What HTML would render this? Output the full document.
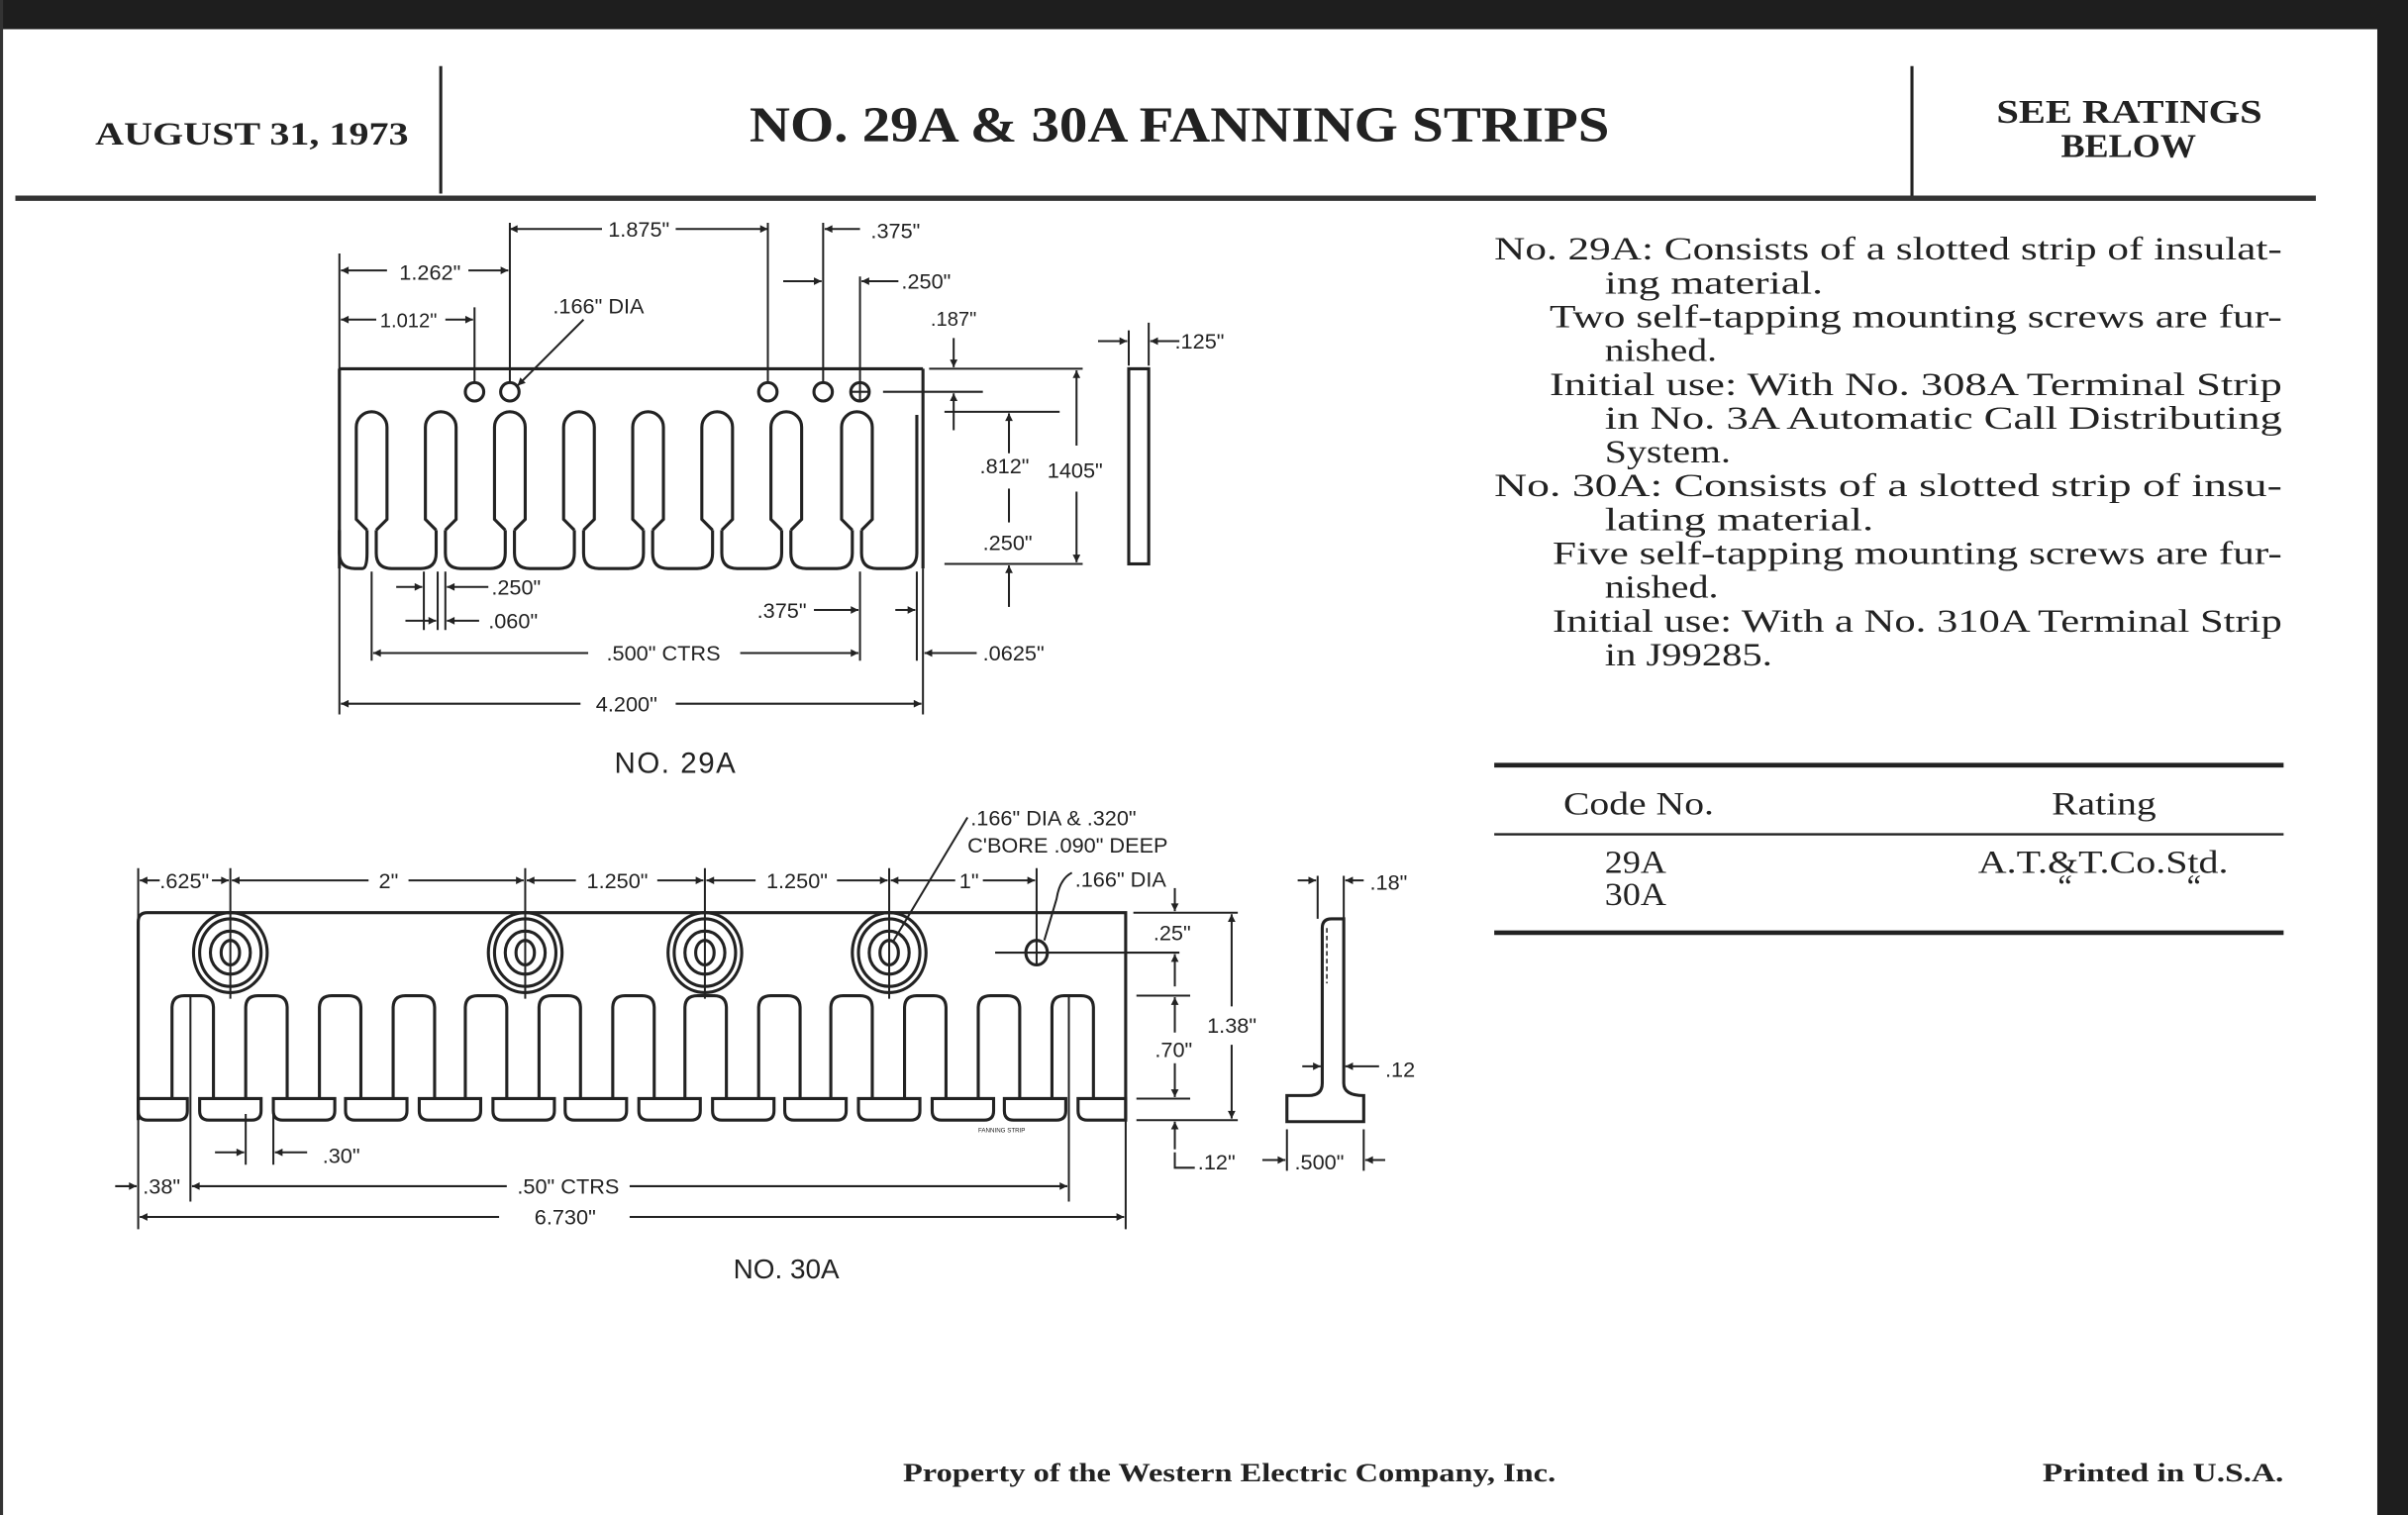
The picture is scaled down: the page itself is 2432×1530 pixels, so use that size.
<!DOCTYPE html>
<html><head><meta charset="utf-8"><style>
html,body{margin:0;padding:0;background:#fff;}
svg{display:block}
.s{font-family:"Liberation Serif",serif;font-weight:bold;fill:#222}
.t{font-family:"Liberation Serif",serif;fill:#222;font-size:21px}
.d{font-family:"Liberation Sans",sans-serif;fill:#222;font-size:14px}
</style></head><body>
<svg width="2432" height="1530" viewBox="0 0 1568 986" preserveAspectRatio="none" xmlns="http://www.w3.org/2000/svg">
<defs>
<marker id="a" viewBox="0 0 10 10" refX="10" refY="5" markerWidth="7" markerHeight="5" orient="auto-start-reverse" markerUnits="userSpaceOnUse"><path d="M0,0L10,5L0,10z" fill="#222"/></marker>
<g id="cb" stroke="#222" stroke-width="2" fill="none"><ellipse cx="0" cy="0" rx="24" ry="26"/><ellipse cx="0" cy="0" rx="20" ry="22"/><ellipse cx="0" cy="0" rx="13" ry="14"/><ellipse cx="0" cy="0" rx="6" ry="8"/></g>
</defs>
<rect width="1568" height="986" fill="#fff"/>
<rect x="0" y="0" width="1568" height="19" fill="#1e1e1e"/>
<rect x="1548" y="0" width="20" height="986" fill="#1e1e1e"/>
<rect x="0" y="0" width="2" height="986" fill="#333"/>

<!-- header -->
<line x1="287" y1="43" x2="287" y2="126" stroke="#222" stroke-width="2"/>
<line x1="1245" y1="43" x2="1245" y2="128" stroke="#222" stroke-width="2"/>
<line x1="10" y1="129" x2="1508" y2="129" stroke="#333" stroke-width="3.5"/>
<g lengthAdjust="spacingAndGlyphs">
<text class="s" x="62" y="94" font-size="21" textLength="204" lengthAdjust="spacingAndGlyphs">AUGUST 31, 1973</text>
<text class="s" x="488" y="92" font-size="33" textLength="560" lengthAdjust="spacingAndGlyphs">NO. 29A &amp; 30A FANNING STRIPS</text>
<text class="s" x="1300" y="80" font-size="22" textLength="173" lengthAdjust="spacingAndGlyphs">SEE RATINGS</text>
<text class="s" x="1342" y="102" font-size="22" textLength="88" lengthAdjust="spacingAndGlyphs">BELOW</text>
</g>

<!-- description -->
<g class="t" font-size="22">
<text x="973" y="169" textLength="513" lengthAdjust="spacingAndGlyphs">No. 29A: Consists of a slotted strip of insulat-</text>
<text x="1045" y="191" textLength="142" lengthAdjust="spacingAndGlyphs">ing material.</text>
<text x="1009" y="213" textLength="477" lengthAdjust="spacingAndGlyphs">Two self-tapping mounting screws are fur-</text>
<text x="1045" y="235" textLength="73" lengthAdjust="spacingAndGlyphs">nished.</text>
<text x="1009" y="257" textLength="477" lengthAdjust="spacingAndGlyphs">Initial use: With No. 308A Terminal Strip</text>
<text x="1045" y="279" textLength="441" lengthAdjust="spacingAndGlyphs">in No. 3A Automatic Call Distributing</text>
<text x="1045" y="301" textLength="82" lengthAdjust="spacingAndGlyphs">System.</text>
<text x="973" y="323" textLength="513" lengthAdjust="spacingAndGlyphs">No. 30A: Consists of a slotted strip of insu-</text>
<text x="1045" y="345" textLength="175" lengthAdjust="spacingAndGlyphs">lating material.</text>
<text x="1011" y="367" textLength="475" lengthAdjust="spacingAndGlyphs">Five self-tapping mounting screws are fur-</text>
<text x="1045" y="389" textLength="74" lengthAdjust="spacingAndGlyphs">nished.</text>
<text x="1011" y="411" textLength="475" lengthAdjust="spacingAndGlyphs">Initial use: With a No. 310A Terminal Strip</text>
<text x="1045" y="433" textLength="109" lengthAdjust="spacingAndGlyphs">in J99285.</text>
</g>
<line x1="973" y1="498" x2="1487" y2="498" stroke="#222" stroke-width="3"/>
<text class="t" x="1018" y="530" textLength="98" lengthAdjust="spacingAndGlyphs">Code No.</text>
<text class="t" x="1336" y="530" textLength="68" lengthAdjust="spacingAndGlyphs">Rating</text>
<line x1="973" y1="543" x2="1487" y2="543" stroke="#222" stroke-width="1.5"/>
<text class="t" x="1045" y="568" textLength="40" lengthAdjust="spacingAndGlyphs">29A</text>
<text class="t" x="1045" y="589" textLength="40" lengthAdjust="spacingAndGlyphs">30A</text>
<text class="t" x="1288" y="568" textLength="163" lengthAdjust="spacingAndGlyphs">A.T.&amp;T.Co.Std.</text>
<text class="t" x="1340" y="584">“</text>
<text class="t" x="1424" y="584">“</text>
<line x1="973" y1="607" x2="1487" y2="607" stroke="#222" stroke-width="3"/>

<text class="s" x="588" y="964" font-size="17" textLength="425" lengthAdjust="spacingAndGlyphs">Property of the Western Electric Company, Inc.</text>
<text class="s" x="1330" y="964" font-size="17" textLength="157" lengthAdjust="spacingAndGlyphs">Printed in U.S.A.</text>

<!-- 29A drawing -->
<g stroke="#222" stroke-width="2" fill="none">
<line x1="221" y1="240" x2="601" y2="240"/>
<line x1="221" y1="240" x2="221" y2="370"/>
<line x1="601" y1="240" x2="601" y2="370"/>
<path d="M221,345 V360 Q221,370 231,370 H236 Q239,370 239,360 V345"/>
<path d="M239,345 L232,338 V278 A10,10 0 0 1 252,278 V338 L245,345"/>
<path d="M245,345 V360 Q245,370 255,370 H274 Q284,370 284,360 V345"/>
<path d="M284,345 L277,338 V278 A10,10 0 0 1 297,278 V338 L290,345"/>
<path d="M290,345 V360 Q290,370 300,370 H319 Q329,370 329,360 V345"/>
<path d="M329,345 L322,338 V278 A10,10 0 0 1 342,278 V338 L335,345"/>
<path d="M335,345 V360 Q335,370 345,370 H364 Q374,370 374,360 V345"/>
<path d="M374,345 L367,338 V278 A10,10 0 0 1 387,278 V338 L380,345"/>
<path d="M380,345 V360 Q380,370 390,370 H409 Q419,370 419,360 V345"/>
<path d="M419,345 L412,338 V278 A10,10 0 0 1 432,278 V338 L425,345"/>
<path d="M425,345 V360 Q425,370 435,370 H454 Q464,370 464,360 V345"/>
<path d="M464,345 L457,338 V278 A10,10 0 0 1 477,278 V338 L470,345"/>
<path d="M470,345 V360 Q470,370 480,370 H499 Q509,370 509,360 V345"/>
<path d="M509,345 L502,338 V278 A10,10 0 0 1 522,278 V338 L515,345"/>
<path d="M515,345 V360 Q515,370 525,370 H545 Q555,370 555,360 V345"/>
<path d="M555,345 L548,338 V278 A10,10 0 0 1 568,278 V338 L561,345"/>
<path d="M561,345 V360 Q561,370 571,370 H587 Q597,370 597,360 V270"/>
<circle cx="309" cy="255" r="6"/><circle cx="332" cy="255" r="6"/><circle cx="500" cy="255" r="6"/><circle cx="536" cy="255" r="6"/><circle cx="560" cy="255" r="6"/>
<rect x="735" y="240" width="13" height="127"/>
</g>
<g stroke="#222" stroke-width="1.3" fill="none">
<path d="M221,165V465 M309,200V249 M332,145V249 M500,145V249 M536,145V249 M560,180V249 M601,370V465 M554,255H566 M560,249V261"/>
<path d="M605,240H705 M575,255H640 M615,268H690 M615,367H705 M735,215V238 M748,210V238"/>
<path d="M276,372V410 M285,372V410 M290,372V410 M560,372V430 M242,372V430 M597,372V430"/>
<line x1="332" y1="149" x2="392" y2="149" marker-start="url(#a)"/><line x1="440" y1="149" x2="500" y2="149" marker-end="url(#a)"/>
<line x1="560" y1="149" x2="537" y2="149" marker-end="url(#a)"/>
<line x1="222" y1="176" x2="252" y2="176" marker-start="url(#a)"/><line x1="305" y1="176" x2="331" y2="176" marker-end="url(#a)"/>
<line x1="222" y1="208" x2="245" y2="208" marker-start="url(#a)"/><line x1="290" y1="208" x2="308" y2="208" marker-end="url(#a)"/>
<line x1="380" y1="208" x2="337" y2="251" marker-end="url(#a)"/>
<line x1="510" y1="183" x2="535" y2="183" marker-end="url(#a)"/><line x1="585" y1="183" x2="561" y2="183" marker-end="url(#a)"/>
<line x1="621" y1="220" x2="621" y2="239" marker-end="url(#a)"/><line x1="621" y1="280" x2="621" y2="256" marker-end="url(#a)"/>
<line x1="657" y1="295" x2="657" y2="269" marker-end="url(#a)"/><line x1="657" y1="318" x2="657" y2="340"/>
<line x1="701" y1="290" x2="701" y2="241" marker-end="url(#a)"/><line x1="701" y1="320" x2="701" y2="366" marker-end="url(#a)"/>
<line x1="657" y1="395" x2="657" y2="368" marker-end="url(#a)"/>
<line x1="715" y1="222" x2="734" y2="222" marker-end="url(#a)"/><line x1="768" y1="222" x2="749" y2="222" marker-end="url(#a)"/>
<line x1="258" y1="382" x2="275" y2="382" marker-end="url(#a)"/><line x1="318" y1="382" x2="291" y2="382" marker-end="url(#a)"/>
<line x1="264" y1="404" x2="284" y2="404" marker-end="url(#a)"/><line x1="312" y1="404" x2="291" y2="404" marker-end="url(#a)"/>
<line x1="530" y1="397" x2="559" y2="397" marker-end="url(#a)"/>
<line x1="583" y1="397" x2="596" y2="397" marker-end="url(#a)"/>
<line x1="243" y1="425" x2="383" y2="425" marker-start="url(#a)"/><line x1="482" y1="425" x2="559" y2="425" marker-end="url(#a)"/>
<line x1="636" y1="425" x2="602" y2="425" marker-end="url(#a)"/>
<line x1="222" y1="458" x2="378" y2="458" marker-start="url(#a)"/><line x1="440" y1="458" x2="600" y2="458" marker-end="url(#a)"/>
</g>
<g class="d">
<text x="416" y="154" text-anchor="middle">1.875"</text>
<text x="567" y="155">.375"</text>
<text x="280" y="182" text-anchor="middle">1.262"</text>
<text x="266" y="213" text-anchor="middle" font-size="13">1.012"</text>
<text x="360" y="204">.166" DIA</text>
<text x="587" y="188">.250"</text>
<text x="606" y="212" font-size="13">.187"</text>
<text x="765" y="227">.125"</text>
<text x="638" y="308">.812"</text>
<text x="682" y="311">1405"</text>
<text x="640" y="358">.250"</text>
<text x="320" y="387">.250"</text>
<text x="318" y="409">.060"</text>
<text x="493" y="402">.375"</text>
<text x="432" y="430" text-anchor="middle">.500" CTRS</text>
<text x="640" y="430">.0625"</text>
<text x="408" y="463" text-anchor="middle">4.200"</text>
<text x="440" y="503" text-anchor="middle" font-size="19" letter-spacing="1">NO. 29A</text>
</g>

<!-- 30A drawing -->
<g stroke="#222" stroke-width="2" fill="none">
<path d="M90,729 V600 Q90,594 96,594 H733 V729"/>
<use href="#cb" x="150" y="620"/><use href="#cb" x="342" y="620"/><use href="#cb" x="459" y="620"/><use href="#cb" x="579" y="620"/>
<ellipse cx="675" cy="620" rx="7" ry="8"/>
<path d="M112,715V656Q112,648 120,648H131Q139,648 139,656V715"/>
<path d="M160,715V656Q160,648 168,648H179Q187,648 187,656V715"/>
<path d="M208,715V656Q208,648 216,648H227Q235,648 235,656V715"/>
<path d="M256,715V656Q256,648 264,648H275Q283,648 283,656V715"/>
<path d="M303,715V656Q303,648 311,648H322Q330,648 330,656V715"/>
<path d="M351,715V656Q351,648 359,648H370Q378,648 378,656V715"/>
<path d="M399,715V656Q399,648 407,648H418Q426,648 426,656V715"/>
<path d="M446,715V656Q446,648 454,648H465Q473,648 473,656V715"/>
<path d="M494,715V656Q494,648 502,648H513Q521,648 521,656V715"/>
<path d="M541,715V656Q541,648 549,648H560Q568,648 568,656V715"/>
<path d="M589,715V656Q589,648 597,648H608Q616,648 616,656V715"/>
<path d="M637,715V656Q637,648 645,648H656Q664,648 664,656V715"/>
<path d="M685,715V656Q685,648 693,648H704Q712,648 712,656V715"/>
<path d="M90,715H122V723Q122,729 116,729H96Q90,729 90,723Z"/>
<path d="M130,715H170V723Q170,729 164,729H136Q130,729 130,723Z"/>
<path d="M178,715H218V723Q218,729 212,729H184Q178,729 178,723Z"/>
<path d="M225,715H265V723Q265,729 259,729H231Q225,729 225,723Z"/>
<path d="M273,715H313V723Q313,729 307,729H279Q273,729 273,723Z"/>
<path d="M321,715H361V723Q361,729 355,729H327Q321,729 321,723Z"/>
<path d="M368,715H408V723Q408,729 402,729H374Q368,729 368,723Z"/>
<path d="M416,715H456V723Q456,729 450,729H422Q416,729 416,723Z"/>
<path d="M464,715H504V723Q504,729 498,729H470Q464,729 464,723Z"/>
<path d="M511,715H551V723Q551,729 545,729H517Q511,729 511,723Z"/>
<path d="M559,715H599V723Q599,729 593,729H565Q559,729 559,723Z"/>
<path d="M607,715H647V723Q647,729 641,729H613Q607,729 607,723Z"/>
<path d="M654,715H694V723Q694,729 688,729H660Q654,729 654,723Z"/>
<path d="M702,715H733V729H708Q702,729 702,723Z"/>
<path d="M861,705V604Q861,598 867,598H875V705 M861,705Q861,713 852,713H838V730H888V713Q875,713 875,705"/>
</g>
<path d="M864,604V640" stroke="#222" stroke-width="1" stroke-dasharray="3,2"/>
<g stroke="#222" stroke-width="1.3" fill="none">
<path d="M90,565V800 M150,565V650 M342,565V650 M459,565V650 M579,565V650 M675,565V628 M733,729V800"/>
<path d="M738,594H806 M648,620H768 M740,648H775 M740,715H775 M740,729H806 M124,648V782 M696,648V782 M160,725V758 M178,725V758"/>
<path d="M858,570V598 M875,570V598 M838,735V762 M888,735V762"/>
<line x1="91" y1="573" x2="104" y2="573" marker-start="url(#a)"/><line x1="138" y1="573" x2="149" y2="573" marker-end="url(#a)"/>
<line x1="151" y1="573" x2="240" y2="573" marker-start="url(#a)"/><line x1="266" y1="573" x2="341" y2="573" marker-end="url(#a)"/>
<line x1="343" y1="573" x2="375" y2="573" marker-start="url(#a)"/><line x1="428" y1="573" x2="458" y2="573" marker-end="url(#a)"/>
<line x1="460" y1="573" x2="492" y2="573" marker-start="url(#a)"/><line x1="545" y1="573" x2="578" y2="573" marker-end="url(#a)"/>
<line x1="580" y1="573" x2="622" y2="573" marker-start="url(#a)"/><line x1="640" y1="573" x2="674" y2="573" marker-end="url(#a)"/>
<path d="M698,568Q690,572 688,585L680,612" />
<path d="M630,532L582,612"/>
<line x1="765" y1="578" x2="765" y2="593" marker-end="url(#a)"/><line x1="765" y1="642" x2="765" y2="621" marker-end="url(#a)"/>
<line x1="765" y1="672" x2="765" y2="649" marker-end="url(#a)"/><line x1="765" y1="692" x2="765" y2="714" marker-end="url(#a)"/>
<line x1="802" y1="655" x2="802" y2="595" marker-end="url(#a)"/><line x1="802" y1="680" x2="802" y2="728" marker-end="url(#a)"/>
<path d="M765,750V760H778"/><line x1="765" y1="748" x2="765" y2="730" marker-end="url(#a)"/>
<line x1="845" y1="573" x2="857" y2="573" marker-end="url(#a)"/><line x1="888" y1="573" x2="876" y2="573" marker-end="url(#a)"/>
<line x1="848" y1="694" x2="860" y2="694" marker-end="url(#a)"/><line x1="898" y1="694" x2="876" y2="694" marker-end="url(#a)"/>
<line x1="822" y1="755" x2="837" y2="755" marker-end="url(#a)"/><line x1="902" y1="755" x2="889" y2="755" marker-end="url(#a)"/>
<line x1="140" y1="750" x2="159" y2="750" marker-end="url(#a)"/><line x1="200" y1="750" x2="179" y2="750" marker-end="url(#a)"/>
<line x1="75" y1="772" x2="89" y2="772" marker-end="url(#a)"/>
<line x1="125" y1="772" x2="330" y2="772" marker-start="url(#a)"/><line x1="410" y1="772" x2="695" y2="772" marker-end="url(#a)"/>
<line x1="91" y1="792" x2="325" y2="792" marker-start="url(#a)"/><line x1="410" y1="792" x2="732" y2="792" marker-end="url(#a)"/>
</g>
<g class="d">
<text x="632" y="537">.166" DIA &amp; .320"</text>
<text x="630" y="555">C'BORE .090" DEEP</text>
<text x="104" y="578">.625"</text>
<text x="253" y="578" text-anchor="middle">2"</text>
<text x="402" y="578" text-anchor="middle">1.250"</text>
<text x="519" y="578" text-anchor="middle">1.250"</text>
<text x="631" y="578" text-anchor="middle">1"</text>
<text x="700" y="577">.166" DIA</text>
<text x="892" y="579">.18"</text>
<text x="751" y="612">.25"</text>
<text x="752" y="688">.70"</text>
<text x="786" y="672">1.38"</text>
<text x="902" y="701">.12</text>
<text x="780" y="761">.12"</text>
<text x="843" y="761">.500"</text>
<text x="210" y="757">.30"</text>
<text x="93" y="777">.38"</text>
<text x="370" y="777" text-anchor="middle">.50" CTRS</text>
<text x="368" y="797" text-anchor="middle">6.730"</text>
<text x="512" y="832" text-anchor="middle" font-size="18">NO. 30A</text>
<text x="637" y="737" font-size="4">FANNING STRIP</text>
</g>
</svg>
</body></html>
